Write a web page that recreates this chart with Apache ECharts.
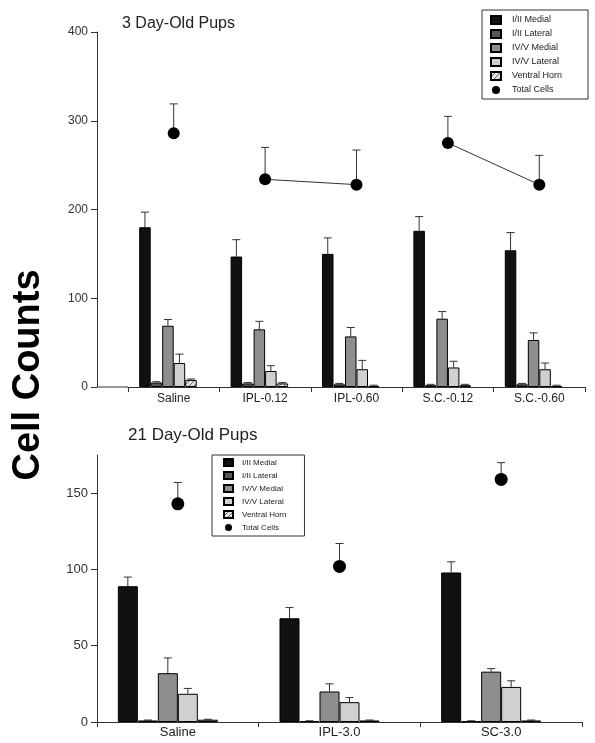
<!DOCTYPE html>
<html>
<head>
<meta charset="utf-8">
<script src="https://cdn.jsdelivr.net/npm/echarts@6/dist/echarts.min.js"></script>
<style>
html,body{margin:0;padding:0;background:#fff;}
#chart{width:595px;height:743px;}
</style>
</head>
<body>
<div id="chart"></div>
<script>
// ---------- DATA ----------
const seriesNames = ['I/II Medial', 'I/II Lateral', 'IV/V Medial', 'IV/V Lateral', 'Ventral Horn'];
const totalName = 'Total Cells';

// 3 day-old pups
const groups3 = ['Saline', 'IPL-0.12', 'IPL-0.60', 'S.C.-0.12', 'S.C.-0.60'];
const medial3 = [180, 147, 150, 176, 154];
const medial3Err = [197, 166, 168, 192, 174];
const lateral3 = [5, 4, 3, 2, 3];
const lateral3Err = [6, 5, 4, 3, 4];
const ivMedial3 = [69, 65, 57, 77, 53];
const ivMedial3Err = [76, 74, 67, 85, 61];
const ivLateral3 = [27, 18, 20, 22, 20];
const ivLateral3Err = [37, 24, 30, 29, 27];
const ventral3 = [8, 4, 1, 2, 1];
const ventral3Err = [9, 5, 2, 3, 2];
const total3 = [286, 234, 228, 275, 228];
const total3Err = [319, 270, 267, 305, 261];
const linkedPairs3 = [[1, 2], [3, 4]];
const yTicks3 = [0, 100, 200, 300, 400];

// 21 day-old pups
const groups21 = ['Saline', 'IPL-3.0', 'SC-3.0'];
const medial21 = [89, 68, 98];
const medial21Err = [95, 75, 105];
const lateral21 = [1, 0.5, 0.5];
const lateral21Err = [1.3, 0.8, 0.8];
const ivMedial21 = [32, 20, 33];
const ivMedial21Err = [42, 25, 35];
const ivLateral21 = [18.5, 13, 23];
const ivLateral21Err = [22, 16, 27];
const ventral21 = [1.5, 1, 1];
const ventral21Err = [1.8, 1.3, 1.3];
const total21 = [143, 102, 159];
const total21Err = [157, 117, 170];
const yTicks21 = [0, 50, 100, 150];

// ---------- STYLE ----------
const FONT = 'Liberation Sans, Arial, Helvetica, sans-serif';
const AX = '#333';

function hatch() {
  const c = document.createElement('canvas');
  c.width = 5; c.height = 5;
  const g = c.getContext('2d');
  g.fillStyle = '#e2e2e2'; g.fillRect(0, 0, 5, 5);
  g.strokeStyle = '#6a6a6a'; g.lineWidth = 1;
  g.beginPath();
  g.moveTo(0, 5); g.lineTo(5, 0);
  g.moveTo(-1, 1); g.lineTo(1, -1);
  g.moveTo(4, 6); g.lineTo(6, 4);
  g.stroke();
  return { image: c, repeat: 'repeat' };
}
const fills = ['#111111', '#575757', '#8e8e8e', '#d0d0d0', hatch()];

const G3 = { left: 128, right: 10, top: 32, bottom: 356 };
const G21 = { left: 97, right: 13, top: 455, bottom: 21 };

function errRender(barW, capW) {
  return function (params, api) {
    const x = api.value(0), v = api.value(1), e = api.value(2), slot = api.value(3);
    const p0 = api.coord([x, v]);
    const p1 = api.coord([x, e]);
    const cx = p0[0] + (slot - 2.5) * barW;
    return {
      type: 'group',
      children: [
        { type: 'line', shape: { x1: cx, y1: p0[1], x2: cx, y2: p1[1] }, style: { stroke: '#333', lineWidth: 1 } },
        { type: 'line', shape: { x1: cx - capW / 2, y1: p1[1], x2: cx + capW / 2, y2: p1[1] }, style: { stroke: '#333', lineWidth: 1 } }
      ]
    };
  };
}

function buildPanel(idx, groups, vals, errs, total, totalErr, barW, capW, dotSize, links) {
  const out = [];
  vals.forEach((arr, i) => {
    out.push({
      name: seriesNames[i], type: 'bar', xAxisIndex: idx, yAxisIndex: idx,
      data: arr, barWidth: barW, barGap: '0%',
      itemStyle: { color: fills[i], borderColor: '#000', borderWidth: 1 },
      emphasis: { disabled: true }, z: 2
    });
  });
  // empty slot reserved (the figure leaves a sixth position in each group)
  out.push({
    name: 'slot', type: 'bar', xAxisIndex: idx, yAxisIndex: idx,
    data: groups.map(() => 0), barWidth: barW, barGap: '0%',
    itemStyle: { color: 'rgba(0,0,0,0)', borderWidth: 0 }, silent: true
  });
  const errData = [];
  vals.forEach((arr, i) => arr.forEach((v, j) => errData.push([j, v, errs[i][j], i])));
  out.push({
    type: 'custom', xAxisIndex: idx, yAxisIndex: idx, silent: true, z: 1,
    renderItem: errRender(barW, capW), encode: { x: 0, y: [1, 2] }, data: errData
  });
  out.push({
    type: 'custom', xAxisIndex: idx, yAxisIndex: idx, silent: true, z: 1,
    renderItem: errRender(0, capW), encode: { x: 0, y: [1, 2] },
    data: total.map((v, j) => [j, v, totalErr[j], 2.5])
  });
  (links || []).forEach(pair => {
    out.push({
      type: 'line', xAxisIndex: idx, yAxisIndex: idx, silent: true, z: 2,
      symbol: 'none', lineStyle: { color: '#333', width: 1 },
      data: total.map((v, j) => (pair.indexOf(j) >= 0 ? v : null))
    });
  });
  out.push({
    name: totalName, type: 'scatter', xAxisIndex: idx, yAxisIndex: idx,
    data: total, symbol: 'circle', symbolSize: dotSize,
    itemStyle: { color: '#000', opacity: 1 }, emphasis: { disabled: true }, z: 4
  });
  return out;
}

const series = [].concat(
  buildPanel(0, groups3,
    [medial3, lateral3, ivMedial3, ivLateral3, ventral3],
    [medial3Err, lateral3Err, ivMedial3Err, ivLateral3Err, ventral3Err],
    total3, total3Err, 11.5, 8, 12, linkedPairs3),
  buildPanel(1, groups21,
    [medial21, lateral21, ivMedial21, ivLateral21, ventral21],
    [medial21Err, lateral21Err, ivMedial21Err, ivLateral21Err, ventral21Err],
    total21, total21Err, 20, 8, 13, [])
);

const legendItems = seriesNames.map(n => ({ name: n, icon: 'rect' }))
  .concat([{ name: totalName, icon: 'circle' }]);

const chart = echarts.init(document.getElementById('chart'), null, { renderer: 'canvas' });
chart.setOption({
  animation: false,
  backgroundColor: '#fff',
  textStyle: { fontFamily: FONT },
  title: [
    { text: '3 Day-Old Pups', left: 117, top: 11, textStyle: { fontSize: 16, fontWeight: 'normal', color: '#222', fontFamily: FONT } },
    { text: '21 Day-Old Pups', left: 123, top: 422, textStyle: { fontSize: 17, fontWeight: 'normal', color: '#222', fontFamily: FONT } }
  ],
  legend: [
    {
      data: legendItems, orient: 'vertical', left: 482, top: 10,
      padding: [5, 26, 4, 8], itemGap: 4, itemWidth: 10, itemHeight: 8,
      borderColor: '#333', borderWidth: 1, selectedMode: false,
      textStyle: { fontSize: 9, color: '#222', fontFamily: FONT, lineHeight: 10, padding: [0, 0, 0, 6] }
    },
    {
      data: legendItems, orient: 'vertical', left: 212, top: 455,
      padding: [3, 18, 4, 11], itemGap: 4, itemWidth: 9, itemHeight: 7,
      borderColor: '#333', borderWidth: 1, selectedMode: false,
      textStyle: { fontSize: 8, color: '#222', fontFamily: FONT, lineHeight: 9, padding: [0, 0, 0, 4] }
    }
  ],
  grid: [
    { left: G3.left, right: G3.right, top: G3.top, bottom: G3.bottom },
    { left: G21.left, right: G21.right, top: G21.top, bottom: G21.bottom }
  ],
  xAxis: [
    {
      type: 'category', gridIndex: 0, data: groups3, boundaryGap: true,
      axisLine: { lineStyle: { color: AX, width: 1 } },
      axisTick: { show: true, length: 5, lineStyle: { color: AX } },
      axisLabel: { fontSize: 12, color: '#222', margin: 6, fontFamily: FONT, interval: 0 }
    },
    {
      type: 'category', gridIndex: 1, data: groups21, boundaryGap: true,
      axisLine: { lineStyle: { color: AX, width: 1 } },
      axisTick: { show: true, length: 5, lineStyle: { color: AX } },
      axisLabel: { fontSize: 13, color: '#222', margin: 4, fontFamily: FONT, interval: 0 }
    }
  ],
  yAxis: [
    {
      type: 'value', gridIndex: 0, min: 0, max: 400, interval: 100, offset: G3.left - G21.left,
      axisLine: { show: true, lineStyle: { color: AX, width: 1 } },
      axisTick: { show: true, length: 6, lineStyle: { color: AX }, customValues: yTicks3 },
      axisLabel: { fontSize: 12, color: '#333', margin: 9, fontFamily: FONT, customValues: yTicks3 },
      splitLine: { show: false }
    },
    {
      type: 'value', gridIndex: 1, min: 0, max: 175, interval: 50,
      axisLine: { show: true, lineStyle: { color: AX, width: 1 } },
      axisTick: { show: true, length: 6, lineStyle: { color: AX }, customValues: yTicks21 },
      axisLabel: { fontSize: 13, color: '#333', margin: 9, fontFamily: FONT, customValues: yTicks21 },
      splitLine: { show: false }
    }
  ],
  graphic: [
    {
      type: 'line', silent: true,
      shape: { x1: G21.left, y1: 743 - G3.bottom, x2: G3.left, y2: 743 - G3.bottom },
      style: { stroke: AX, lineWidth: 1 }
    },
    {
      type: 'text', x: 29, y: 375, rotation: Math.PI / 2, silent: true,
      style: { text: 'Cell Counts', fontSize: 38, fontWeight: 'bold', fontFamily: FONT, fill: '#000', align: 'center', verticalAlign: 'middle' }
    }
  ],
  series: series
});
</script>
</body>
</html>
